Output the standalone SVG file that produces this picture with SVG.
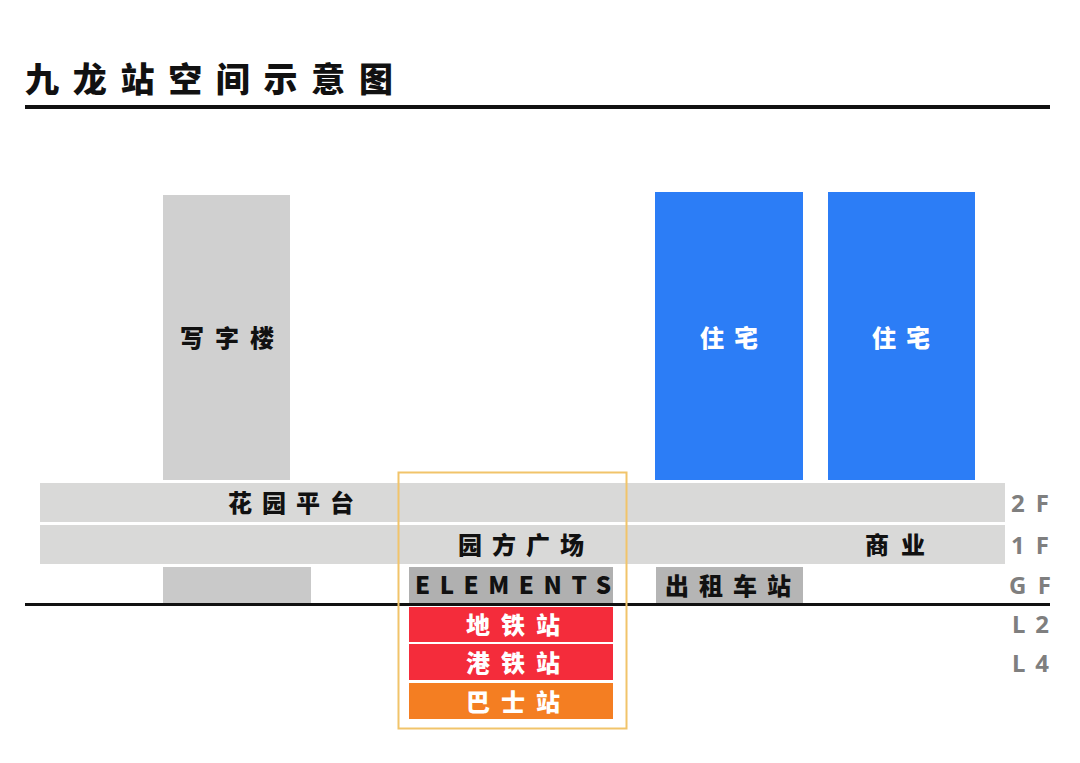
<svg xmlns="http://www.w3.org/2000/svg" width="1080" height="763" viewBox="0 0 1080 763">
<style>
.t{font-family:"Noto Sans CJK SC","Noto Sans",sans-serif;font-weight:900;}
.lbl{font-size:24px;fill:#111;}
.w{fill:#fff;}
.fl{font-family:"Noto Sans","Open Sans",sans-serif;font-weight:700;font-size:24px;fill:#7f7f7f;}
.band{fill:#d9d9d8;}
.gf{fill:#c9c9c9;}
.blue{fill:#2c7df6;}
</style>
<rect width="1080" height="763" fill="#fff"/>
<g id="title">
<text class="t" x="25" y="92" font-size="34" textLength="368" lengthAdjust="spacing" fill="#111">九龙站空间示意图</text>
<rect x="25" y="105" width="1025" height="4" fill="#111"/>
</g>
<g id="office"><rect x="163" y="195" width="127" height="285" fill="#d0d0d0"/><text class="t lbl" x="180" y="347" textLength="94" lengthAdjust="spacing">写字楼</text></g>
<g id="res1"><rect class="blue" x="655" y="192" width="148" height="288"/><text class="t lbl w" x="700" y="347" textLength="58" lengthAdjust="spacing">住宅</text></g>
<g id="res2"><rect class="blue" x="828" y="192" width="147" height="288"/><text class="t lbl w" x="872" y="347" textLength="58" lengthAdjust="spacing">住宅</text></g>
<g id="f2"><rect class="band" x="40" y="483" width="965" height="39"/><text class="t lbl" x="228" y="512" textLength="126" lengthAdjust="spacing">花园平台</text></g>
<g id="f1"><rect class="band" x="40" y="525" width="965" height="39"/><text class="t lbl" x="458" y="554" textLength="126" lengthAdjust="spacing">园方广场</text><text class="t lbl" x="865" y="554" textLength="60" lengthAdjust="spacing">商业</text></g>
<g id="gf-left"><rect class="gf" x="163" y="567" width="148" height="36"/></g>
<g id="elements"><rect x="409" y="567" width="204" height="36" fill="#b0b0b0"/><text class="t" x="415" y="594" font-size="24" fill="#111" textLength="196" lengthAdjust="spacing">ELEMENTS</text></g>
<g id="taxi"><rect x="656" y="567" width="147" height="36" fill="#b5b5b5"/><text class="t lbl" x="665" y="595" textLength="126" lengthAdjust="spacing">出租车站</text></g>
<g id="ground"><rect x="25" y="603" width="1025" height="3" fill="#111"/></g>
<g id="mtr"><rect x="409" y="607" width="204" height="35" fill="#f42c3b"/><text class="t lbl w" x="466" y="634" textLength="94" lengthAdjust="spacing">地铁站</text></g>
<g id="hk"><rect x="409" y="644" width="204" height="36" fill="#f42c3b"/><text class="t lbl w" x="466" y="672" textLength="94" lengthAdjust="spacing">港铁站</text></g>
<g id="bus"><rect x="409" y="683" width="204" height="36" fill="#f47e22"/><text class="t lbl w" x="466" y="711" textLength="94" lengthAdjust="spacing">巴士站</text></g>
<g id="frame"><rect x="398.5" y="472.5" width="228" height="256" fill="none" stroke="#f1c46a" stroke-width="2"/></g>
<g id="floors">
<text class="fl" x="1011" y="512" textLength="38" lengthAdjust="spacing">2F</text>
<text class="fl" x="1011" y="554" textLength="38" lengthAdjust="spacing">1F</text>
<text class="fl" x="1009" y="594" textLength="42" lengthAdjust="spacing">GF</text>
<text class="fl" x="1012" y="633" textLength="37" lengthAdjust="spacing">L2</text>
<text class="fl" x="1012" y="672" textLength="37" lengthAdjust="spacing">L4</text>
</g>
</svg>
